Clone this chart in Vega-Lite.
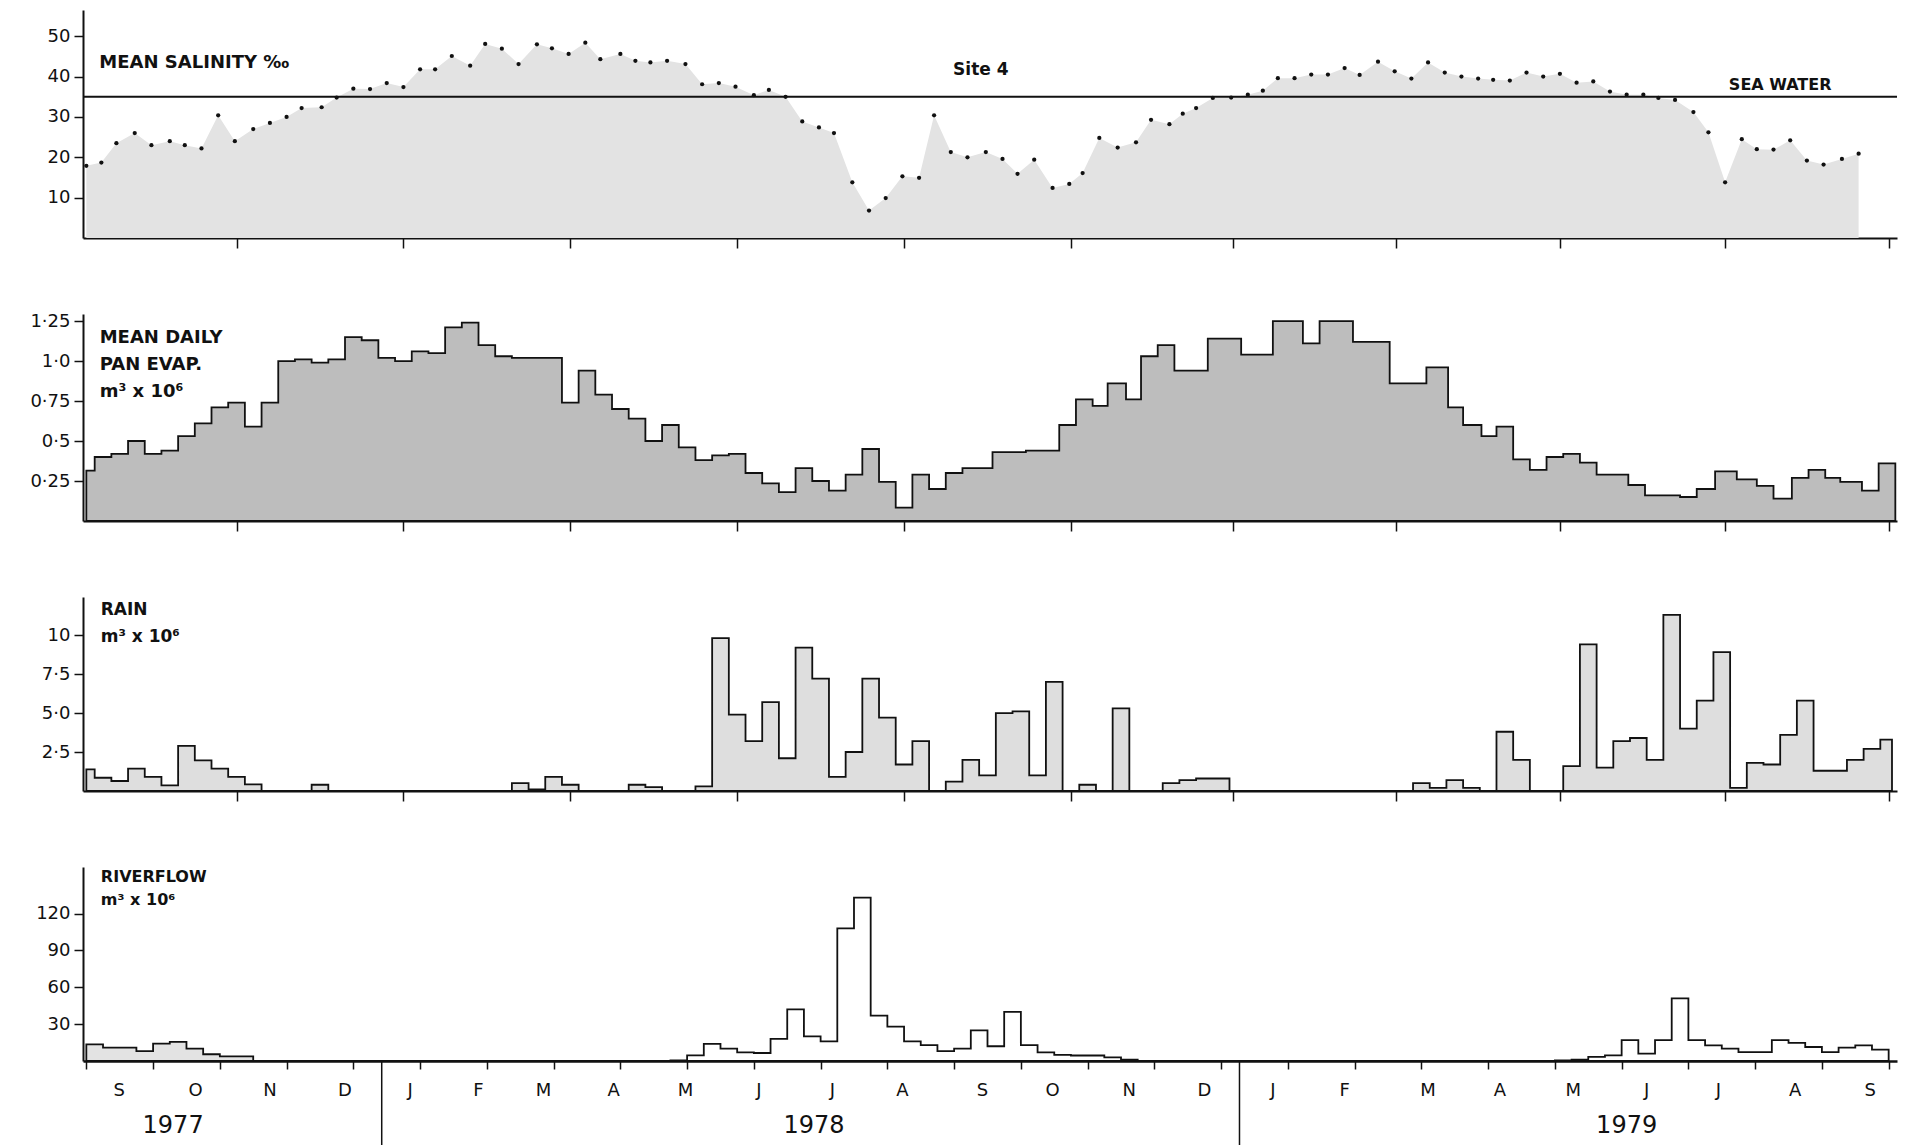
{
"$schema": "https://vega.github.io/schema/vega-lite/v6.json",
"background": "white",
"padding": {"left": 29, "top": 10, "right": 5, "bottom": 0},
"autosize": {"type": "pad"},
"config": {
 "view": {"stroke": null},
 "axis": {"labelFont": "DejaVu Sans", "labelFontSize": 18, "labelColor": "#111", "domainColor": "#111", "tickColor": "#111", "grid": false, "domainWidth": 2, "tickWidth": 1.5, "labelPadding": 4}
},
"datasets": {
 "sal": [
  {"t":0,"v":17.9},{"t":0.9,"v":18.7},{"t":1.8,"v":23.5},{"t":2.9,"v":26.0},{"t":3.9,"v":23.0},{"t":5.0,"v":24.0},{"t":5.9,"v":23.0},{"t":6.9,"v":22.2},{"t":7.9,"v":30.4},{"t":8.9,"v":24.0},
  {"t":10.0,"v":27.0},{"t":11.0,"v":28.5},{"t":12.0,"v":30.0},{"t":12.9,"v":32.2},{"t":14.1,"v":32.4},{"t":15.0,"v":34.8},{"t":16.0,"v":37.0},{"t":17.0,"v":36.9},{"t":18.0,"v":38.4},{"t":19.0,"v":37.4},
  {"t":20.0,"v":41.8},{"t":20.9,"v":41.8},{"t":21.9,"v":45.1},{"t":23.0,"v":42.7},{"t":23.9,"v":48.1},{"t":24.9,"v":46.9},{"t":25.9,"v":43.1},{"t":27.0,"v":48.0},{"t":27.9,"v":47.0},{"t":28.9,"v":45.6},
  {"t":29.9,"v":48.4},{"t":30.8,"v":44.3},{"t":32.0,"v":45.6},{"t":32.9,"v":43.9},{"t":33.8,"v":43.5},{"t":34.8,"v":43.9},{"t":35.9,"v":43.1},{"t":36.9,"v":38.1},{"t":37.9,"v":38.4},{"t":38.9,"v":37.5},
  {"t":40.0,"v":35.4},{"t":40.9,"v":36.7},{"t":41.9,"v":35.0},{"t":42.9,"v":28.9},{"t":43.9,"v":27.4},{"t":44.8,"v":26.0},{"t":45.9,"v":13.8},{"t":46.9,"v":6.8},{"t":47.9,"v":9.9},{"t":48.9,"v":15.3},
  {"t":49.9,"v":14.9},{"t":50.8,"v":30.4},{"t":51.8,"v":21.3},{"t":52.8,"v":20.0},{"t":53.9,"v":21.3},{"t":54.9,"v":19.6},{"t":55.8,"v":15.9},{"t":56.8,"v":19.4},{"t":57.9,"v":12.4},{"t":58.9,"v":13.4},
  {"t":59.7,"v":16.1},{"t":60.7,"v":24.8},{"t":61.8,"v":22.4},{"t":62.9,"v":23.7},{"t":63.8,"v":29.3},{"t":64.9,"v":28.2},{"t":65.7,"v":30.8},{"t":66.5,"v":32.2},{"t":67.5,"v":34.7},{"t":68.6,"v":34.8},
  {"t":69.6,"v":35.5},{"t":70.5,"v":36.5},{"t":71.4,"v":39.6},{"t":72.4,"v":39.6},{"t":73.4,"v":40.5},{"t":74.4,"v":40.5},{"t":75.4,"v":42.1},{"t":76.3,"v":40.4},{"t":77.4,"v":43.7},{"t":78.4,"v":41.3},
  {"t":79.4,"v":39.5},{"t":80.4,"v":43.5},{"t":81.4,"v":41.0},{"t":82.4,"v":40.0},{"t":83.4,"v":39.5},{"t":84.3,"v":39.2},{"t":85.3,"v":39.0},{"t":86.3,"v":41.0},{"t":87.3,"v":40.0},{"t":88.3,"v":40.7},
  {"t":89.3,"v":38.5},{"t":90.3,"v":38.8},{"t":91.3,"v":36.3},{"t":92.3,"v":35.5},{"t":93.3,"v":35.5},{"t":94.2,"v":34.7},{"t":95.2,"v":34.2},{"t":96.3,"v":31.2},{"t":97.2,"v":26.2},{"t":98.2,"v":13.8},
  {"t":99.2,"v":24.5},{"t":100.1,"v":22.0},{"t":101.1,"v":21.9},{"t":102.1,"v":24.2},{"t":103.1,"v":19.2},{"t":104.1,"v":18.2},{"t":105.2,"v":19.6},{"t":106.2,"v":20.9}
 ],
 "evap": [
  {"t":0,"v":0.315},{"t":0.5,"v":0.40},{"t":1.5,"v":0.42},{"t":2.5,"v":0.50},{"t":3.5,"v":0.42},{"t":4.5,"v":0.44},{"t":5.5,"v":0.53},{"t":6.5,"v":0.61},{"t":7.5,"v":0.71},{"t":8.5,"v":0.74},
  {"t":9.5,"v":0.59},{"t":10.5,"v":0.74},{"t":11.5,"v":1.00},{"t":12.5,"v":1.01},{"t":13.5,"v":0.99},{"t":14.5,"v":1.01},{"t":15.5,"v":1.15},{"t":16.5,"v":1.13},{"t":17.5,"v":1.02},{"t":18.5,"v":1.00},
  {"t":19.5,"v":1.06},{"t":20.5,"v":1.05},{"t":21.5,"v":1.21},{"t":22.5,"v":1.24},{"t":23.5,"v":1.10},{"t":24.5,"v":1.03},{"t":25.5,"v":1.02},{"t":26.5,"v":1.02},{"t":27.5,"v":1.02},{"t":28.5,"v":0.74},
  {"t":29.5,"v":0.94},{"t":30.5,"v":0.79},{"t":31.5,"v":0.70},{"t":32.5,"v":0.64},{"t":33.5,"v":0.50},{"t":34.5,"v":0.60},{"t":35.5,"v":0.46},{"t":36.5,"v":0.38},{"t":37.5,"v":0.41},{"t":38.5,"v":0.42},
  {"t":39.5,"v":0.30},{"t":40.5,"v":0.235},{"t":41.5,"v":0.18},{"t":42.5,"v":0.33},{"t":43.5,"v":0.25},{"t":44.5,"v":0.19},{"t":45.5,"v":0.29},{"t":46.5,"v":0.45},{"t":47.5,"v":0.245},{"t":48.5,"v":0.083},
  {"t":49.5,"v":0.29},{"t":50.5,"v":0.20},{"t":51.5,"v":0.30},{"t":52.5,"v":0.33},{"t":53.5,"v":0.33},{"t":54.3,"v":0.43},{"t":55.3,"v":0.43},{"t":56.3,"v":0.44},{"t":57.3,"v":0.44},{"t":58.3,"v":0.60},
  {"t":59.3,"v":0.76},{"t":60.3,"v":0.72},{"t":61.2,"v":0.86},{"t":62.3,"v":0.76},{"t":63.2,"v":1.03},{"t":64.2,"v":1.10},{"t":65.2,"v":0.94},{"t":66.2,"v":0.94},{"t":67.2,"v":1.14},{"t":68.2,"v":1.14},
  {"t":69.2,"v":1.04},{"t":70.2,"v":1.04},{"t":71.1,"v":1.25},{"t":72.0,"v":1.25},{"t":72.9,"v":1.11},{"t":73.9,"v":1.25},{"t":74.9,"v":1.25},{"t":75.9,"v":1.12},{"t":77.0,"v":1.12},{"t":78.1,"v":0.86},
  {"t":79.2,"v":0.86},{"t":80.3,"v":0.96},{"t":81.6,"v":0.71},{"t":82.5,"v":0.60},{"t":83.6,"v":0.53},{"t":84.5,"v":0.59},{"t":85.5,"v":0.385},{"t":86.5,"v":0.32},{"t":87.5,"v":0.40},{"t":88.5,"v":0.42},
  {"t":89.5,"v":0.365},{"t":90.5,"v":0.29},{"t":91.5,"v":0.29},{"t":92.4,"v":0.225},{"t":93.4,"v":0.16},{"t":94.5,"v":0.16},{"t":95.5,"v":0.15},{"t":96.5,"v":0.20},{"t":97.6,"v":0.31},{"t":98.9,"v":0.26},
  {"t":100.1,"v":0.22},{"t":101.1,"v":0.14},{"t":102.2,"v":0.27},{"t":103.2,"v":0.32},{"t":104.2,"v":0.27},{"t":105.1,"v":0.245},{"t":106.4,"v":0.19},{"t":107.4,"v":0.36},{"t":108.4,"v":0.36}
 ],
 "rain": [
  {"t":0,"v":1.39},{"t":0.5,"v":0.85},{"t":1.5,"v":0.64},{"t":2.5,"v":1.43},{"t":3.5,"v":0.90},{"t":4.5,"v":0.36},{"t":5.5,"v":2.9},{"t":6.5,"v":1.97},{"t":7.5,"v":1.43},{"t":8.5,"v":0.90},
  {"t":9.5,"v":0.43},{"t":10.5,"v":0},{"t":11.5,"v":0},{"t":12.5,"v":0},{"t":13.5,"v":0.4},{"t":14.5,"v":0},{"t":15.5,"v":0},{"t":16.5,"v":0},{"t":17.5,"v":0},{"t":18.5,"v":0},
  {"t":19.5,"v":0},{"t":20.5,"v":0},{"t":21.5,"v":0},{"t":22.5,"v":0},{"t":23.5,"v":0},{"t":24.5,"v":0},{"t":25.5,"v":0.5},{"t":26.5,"v":0.1},{"t":27.5,"v":0.9},{"t":28.5,"v":0.4},
  {"t":29.5,"v":0},{"t":30.5,"v":0},{"t":31.5,"v":0},{"t":32.5,"v":0.4},{"t":33.5,"v":0.25},{"t":34.5,"v":0},{"t":35.5,"v":0},{"t":36.5,"v":0.3},{"t":37.5,"v":9.8},{"t":38.5,"v":4.9},
  {"t":39.5,"v":3.2},{"t":40.5,"v":5.7},{"t":41.5,"v":2.1},{"t":42.5,"v":9.2},{"t":43.5,"v":7.2},{"t":44.5,"v":0.9},{"t":45.5,"v":2.5},{"t":46.5,"v":7.2},{"t":47.5,"v":4.7},{"t":48.5,"v":1.7},
  {"t":49.5,"v":3.2},{"t":50.5,"v":0},{"t":51.5,"v":0.6},{"t":52.5,"v":2.0},{"t":53.5,"v":1.0},{"t":54.5,"v":5.0},{"t":55.5,"v":5.1},{"t":56.5,"v":1.0},{"t":57.5,"v":7.0},{"t":58.5,"v":0},
  {"t":59.5,"v":0.4},{"t":60.5,"v":0},{"t":61.5,"v":5.3},{"t":62.5,"v":0},{"t":63.5,"v":0},{"t":64.5,"v":0.5},{"t":65.5,"v":0.7},{"t":66.5,"v":0.8},{"t":67.5,"v":0.8},{"t":68.5,"v":0},
  {"t":69.5,"v":0},{"t":70.5,"v":0},{"t":71.5,"v":0},{"t":72.5,"v":0},{"t":73.5,"v":0},{"t":74.5,"v":0},{"t":75.5,"v":0},{"t":76.5,"v":0},{"t":77.5,"v":0},{"t":78.5,"v":0},
  {"t":79.5,"v":0.5},{"t":80.5,"v":0.2},{"t":81.5,"v":0.7},{"t":82.5,"v":0.2},{"t":83.5,"v":0},{"t":84.5,"v":3.8},{"t":85.5,"v":2.0},{"t":86.5,"v":0},{"t":87.5,"v":0},{"t":88.5,"v":1.6},
  {"t":89.5,"v":9.4},{"t":90.5,"v":1.5},{"t":91.5,"v":3.2},{"t":92.5,"v":3.4},{"t":93.5,"v":2.0},{"t":94.5,"v":11.3},{"t":95.5,"v":4.0},{"t":96.5,"v":5.8},{"t":97.5,"v":8.9},{"t":98.5,"v":0.2},
  {"t":99.5,"v":1.8},{"t":100.5,"v":1.7},{"t":101.5,"v":3.6},{"t":102.5,"v":5.8},{"t":103.5,"v":1.3},{"t":104.5,"v":1.3},{"t":105.5,"v":2.0},{"t":106.5,"v":2.7},{"t":107.5,"v":3.3},{"t":108.2,"v":3.3}
 ],
 "river": [
  {"t":0,"v":13.6},{"t":1,"v":10.9},{"t":2,"v":10.9},{"t":3,"v":8.1},{"t":4,"v":14.2},{"t":5,"v":15.5},{"t":6,"v":10.1},{"t":7,"v":5.5},{"t":8,"v":3.8},{"t":9,"v":3.8},
  {"t":10,"v":0},{"t":11,"v":0},{"t":12,"v":0},{"t":13,"v":0},{"t":14,"v":0},{"t":15,"v":0},{"t":16,"v":0},{"t":17,"v":0},{"t":18,"v":0},{"t":19,"v":0},
  {"t":20,"v":0},{"t":21,"v":0},{"t":22,"v":0},{"t":23,"v":0},{"t":24,"v":0},{"t":25,"v":0},{"t":26,"v":0},{"t":27,"v":0},{"t":28,"v":0},{"t":29,"v":0},
  {"t":30,"v":0},{"t":31,"v":0},{"t":32,"v":0},{"t":33,"v":0},{"t":34,"v":0},{"t":35,"v":0.5},{"t":36,"v":4.6},{"t":37,"v":14},{"t":38,"v":10},{"t":39,"v":7},
  {"t":40,"v":6.5},{"t":41,"v":18},{"t":42,"v":42},{"t":43,"v":20},{"t":44,"v":16},{"t":45,"v":108},{"t":46,"v":133},{"t":47,"v":37},{"t":48,"v":28},{"t":49,"v":16},
  {"t":50,"v":13},{"t":51,"v":8},{"t":52,"v":10},{"t":53,"v":25},{"t":54,"v":12},{"t":55,"v":40},{"t":56,"v":13},{"t":57,"v":7},{"t":58,"v":5},{"t":59,"v":4.5},
  {"t":60,"v":4.5},{"t":61,"v":3},{"t":62,"v":1},{"t":63,"v":0},{"t":64,"v":0},{"t":65,"v":0},{"t":66,"v":0},{"t":67,"v":0},{"t":68,"v":0},{"t":69,"v":0},
  {"t":70,"v":0},{"t":71,"v":0},{"t":72,"v":0},{"t":73,"v":0},{"t":74,"v":0},{"t":75,"v":0},{"t":76,"v":0},{"t":77,"v":0},{"t":78,"v":0},{"t":79,"v":0},
  {"t":80,"v":0},{"t":81,"v":0},{"t":82,"v":0},{"t":83,"v":0},{"t":84,"v":0},{"t":85,"v":0},{"t":86,"v":0},{"t":87,"v":0},{"t":88,"v":0.5},{"t":89,"v":1},
  {"t":90,"v":3.3},{"t":91,"v":4.6},{"t":92,"v":17},{"t":93,"v":6},{"t":94,"v":17},{"t":95,"v":51},{"t":96,"v":17},{"t":97,"v":12.8},{"t":98,"v":10},{"t":99,"v":7.3},
  {"t":100,"v":7.3},{"t":101,"v":17},{"t":102,"v":14.7},{"t":103,"v":11.4},{"t":104,"v":7.3},{"t":105,"v":10.9},{"t":106,"v":12.8},{"t":107,"v":9.2},{"t":108,"v":9.2}
 ],
 "months": [
  {"m":"S","t":1.97},{"m":"O","t":6.55},{"m":"N","t":11.0},{"m":"D","t":15.5},{"m":"J","t":19.4},{"m":"F","t":23.5},{"m":"M","t":27.4},{"m":"A","t":31.6},{"m":"M","t":35.9},
  {"m":"J","t":40.3},{"m":"J","t":44.7},{"m":"A","t":48.9},{"m":"S","t":53.7},{"m":"O","t":57.9},{"m":"N","t":62.5},{"m":"D","t":67.0},
  {"m":"J","t":71.1},{"m":"F","t":75.4},{"m":"M","t":80.4},{"m":"A","t":84.7},{"m":"M","t":89.1},{"m":"J","t":93.5},{"m":"J","t":97.8},{"m":"A","t":102.4},{"m":"S","t":106.9}
 ],
 "years": [{"y":"1977","t":5.2},{"y":"1978","t":43.6},{"y":"1979","t":92.3}],
 "dividers": [{"t":17.7},{"t":69.1}]
},
"spacing": 76,
"bounds": "flush",
"vconcat": [
 {
  "width": 1814, "height": 228,
  "layer": [
   {
    "data": {"name": "sal"},
    "mark": {"type": "area", "color": "#e3e3e3", "interpolate": "linear"},
    "encoding": {
     "x": {"field": "t", "type": "quantitative", "title": null, "scale": {"domain": [-0.2, 108.5], "nice": false, "zero": false},
           "axis": {"values": [9,19,29,39,49,59,68.7,78.5,88.3,98.2,108], "labels": false, "tickSize": 10, "title": null}},
     "y": {"field": "v", "type": "quantitative", "title": null, "scale": {"domain": [0, 56.5], "nice": false},
           "axis": {"values": [10,20,30,40,50], "tickSize": 9, "title": null}}
    }
   },
   {
    "data": {"values": [{}]},
    "mark": {"type": "rule", "color": "#111", "strokeWidth": 2},
    "encoding": {"y": {"datum": 35, "title": null}}
   },
   {
    "data": {"name": "sal"},
    "mark": {"type": "point", "filled": true, "size": 18, "color": "#111", "opacity": 1},
    "encoding": {"x": {"field": "t", "type": "quantitative", "title": null}, "y": {"field": "v", "type": "quantitative", "title": null}}
   },
   {
    "data": {"values": [{}]},
    "mark": {"type": "text", "text": "MEAN  SALINITY  ‰", "align": "left", "baseline": "top", "font": "DejaVu Sans", "fontSize": 18, "fontWeight": "bold", "color": "#111"},
    "encoding": {"x": {"datum": 0.78, "title": null}, "y": {"datum": 45.7, "title": null}}
   },
   {
    "data": {"values": [{}]},
    "mark": {"type": "text", "text": "Site  4", "align": "center", "baseline": "top", "font": "DejaVu Sans", "fontSize": 17, "fontWeight": "bold", "color": "#111"},
    "encoding": {"x": {"datum": 53.6, "title": null}, "y": {"datum": 43.7, "title": null}}
   },
   {
    "data": {"values": [{}]},
    "mark": {"type": "text", "text": "SEA  WATER", "align": "center", "baseline": "top", "font": "DejaVu Sans", "fontSize": 16, "fontWeight": "bold", "color": "#111"},
    "encoding": {"x": {"datum": 101.5, "title": null}, "y": {"datum": 39.9, "title": null}}
   }
  ]
 },
 {
  "width": 1814, "height": 207,
  "layer": [
   {
    "data": {"name": "evap"},
    "mark": {"type": "area", "interpolate": "step-after", "color": "#bdbdbd", "stroke": "#111", "strokeWidth": 1.8},
    "encoding": {
     "x": {"field": "t", "type": "quantitative", "title": null, "scale": {"domain": [-0.2, 108.5], "nice": false, "zero": false},
           "axis": {"values": [9,19,29,39,49,59,68.7,78.5,88.3,98.2,108], "labels": false, "tickSize": 10, "title": null}},
     "y": {"field": "v", "type": "quantitative", "title": null, "scale": {"domain": [0, 1.294], "nice": false},
           "axis": {"values": [0.25,0.5,0.75,1,1.25], "tickSize": 9, "title": null,
                    "labelExpr": "datum.value == 1 ? '1·0' : replace(format(datum.value, '.2~f'), '.', '·')"}}
    }
   },
   {
    "data": {"values": [{}]},
    "mark": {"type": "text", "text": ["MEAN DAILY", "PAN  EVAP.", "m³ x 10⁶"], "lineHeight": 27, "align": "left", "baseline": "top", "font": "DejaVu Sans", "fontSize": 18, "fontWeight": "bold", "color": "#111"},
    "encoding": {"x": {"datum": 0.8, "title": null}, "y": {"datum": 1.2, "title": null}}
   }
  ]
 },
 {
  "width": 1814, "height": 194,
  "layer": [
   {
    "data": {"name": "rain"},
    "mark": {"type": "area", "interpolate": "step-after", "color": "#dedede", "stroke": "#111", "strokeWidth": 1.8},
    "encoding": {
     "x": {"field": "t", "type": "quantitative", "title": null, "scale": {"domain": [-0.2, 108.5], "nice": false, "zero": false},
           "axis": {"values": [9,19,29,39,49,59,68.7,78.5,88.3,98.2,108], "labels": false, "tickSize": 10, "title": null}},
     "y": {"field": "v", "type": "quantitative", "title": null, "scale": {"domain": [0, 12.44], "nice": false},
           "axis": {"values": [2.5,5,7.5,10], "tickSize": 9, "title": null,
                    "labelExpr": "datum.value == 10 ? '10' : replace(format(datum.value, '.1f'), '.', '·')"}}
    }
   },
   {
    "data": {"values": [{}]},
    "mark": {"type": "text", "text": ["RAIN", "m³ x 10⁶"], "lineHeight": 27, "align": "left", "baseline": "top", "font": "DejaVu Sans", "fontSize": 17, "fontWeight": "bold", "color": "#111"},
    "encoding": {"x": {"datum": 0.86, "title": null}, "y": {"datum": 12.1, "title": null}}
   }
  ]
 },
 {
  "width": 1814, "height": 194,
  "layer": [
   {
    "data": {"name": "river"},
    "transform": [{"filter": "datum.t <= 10"}],
    "mark": {"type": "area", "interpolate": "step-after", "color": "#e3e3e3"},
    "encoding": {
     "x": {"field": "t", "type": "quantitative", "title": null, "scale": {"domain": [-0.2, 108.5], "nice": false, "zero": false},
           "axis": {"values": [0,1,2,3,4,5,6,7,8,9,10,11,12,13,14,15,16,17,18,19,20,21,22,23,24,25,26,27,28,29,30,31,32,33,34,35,36,37,38,39,40,41,42,43,44,45,46,47,48,49,50,51,52,53,54,55,56,57,58,59,60,61,62,63,64,65,66,67,68,69,70,71,72,73,74,75,76,77,78,79,80,81,82,83,84,85,86,87,88,89,90,91,92,93,94,95,96,97,98,99,100,101,102,103,104,105,106,107,108], "labels": false, "tickSize": 8, "domainWidth": 2.5, "title": null}},
     "y": {"field": "v", "type": "quantitative", "title": null, "scale": {"domain": [0, 158], "nice": false},
           "axis": {"values": [30,60,90,120], "tickSize": 9, "title": null}}
    }
   },
   {
    "data": {"name": "river"},
    "mark": {"type": "area", "interpolate": "step-after", "fillOpacity": 0, "stroke": "#111", "strokeWidth": 1.8},
    "encoding": {"x": {"field": "t", "type": "quantitative", "title": null}, "y": {"field": "v", "type": "quantitative", "title": null}}
   },
   {
    "data": {"name": "dividers"},
    "mark": {"type": "rule", "color": "#111", "strokeWidth": 1.5},
    "encoding": {"x": {"field": "t", "type": "quantitative", "title": null}, "y": {"datum": 0, "title": null}, "y2": {"datum": -72}}
   },
   {
    "data": {"name": "months"},
    "mark": {"type": "text", "align": "center", "baseline": "middle", "font": "DejaVu Sans", "fontSize": 18, "color": "#111"},
    "encoding": {"x": {"field": "t", "type": "quantitative", "title": null}, "y": {"datum": -24.7, "title": null}, "text": {"field": "m"}}
   },
   {
    "data": {"name": "years"},
    "mark": {"type": "text", "align": "center", "baseline": "middle", "font": "DejaVu Sans", "fontSize": 24, "color": "#111"},
    "encoding": {"x": {"field": "t", "type": "quantitative", "title": null}, "y": {"datum": -53.2, "title": null}, "text": {"field": "y"}}
   },
   {
    "data": {"values": [{}]},
    "mark": {"type": "text", "text": ["RIVERFLOW", "m³ x 10⁶"], "lineHeight": 23, "align": "left", "baseline": "top", "font": "DejaVu Sans", "fontSize": 16, "fontWeight": "bold", "color": "#111"},
    "encoding": {"x": {"datum": 0.87, "title": null}, "y": {"datum": 156, "title": null}}
   }
  ]
 }
]
}
